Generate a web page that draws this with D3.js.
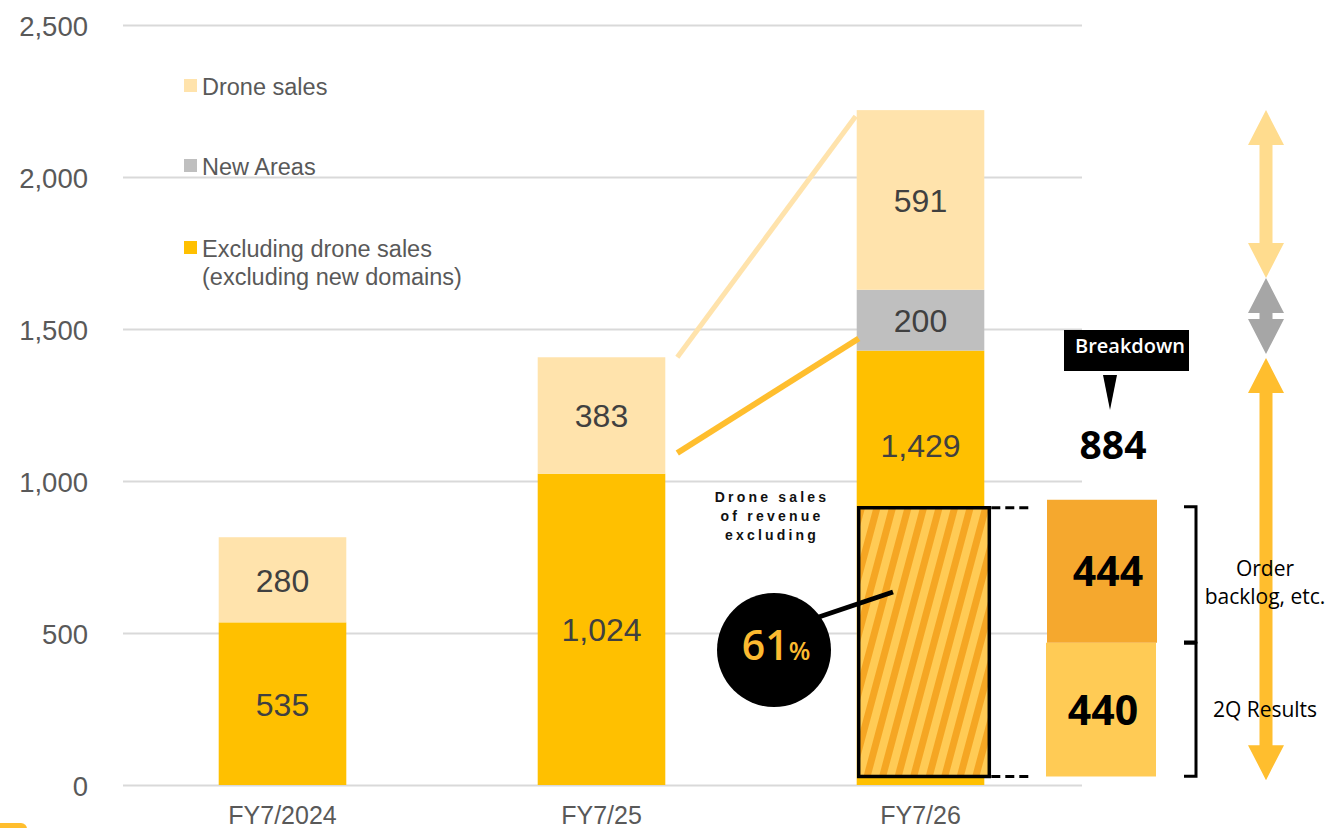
<!DOCTYPE html>
<html>
<head>
<meta charset="utf-8">
<script src="https://cdn.jsdelivr.net/npm/d3@7"></script>
<style>
  html, body { margin: 0; padding: 0; background: #ffffff; }
  svg { display: block; }
</style>
</head>
<body>
<script>
// ---- data ----
const categories = ["FY7/2024", "FY7/25", "FY7/26"];
const coreSales = [535, 1024, 1429];      // excluding drone sales (excluding new domains)
const newAreas = [0, 0, 200];
const droneSales = [280, 383, 591];
const yTicks = [0, 500, 1000, 1500, 2000, 2500];
const legendLabels = [
  ["Drone sales"],
  ["New Areas"],
  ["Excluding drone sales", "(excluding new domains)"]
];
const breakdownLabels = [["2Q Results"], ["Order", "backlog, etc."]];
const breakdownValues = [440, 444];
const breakdownTotal = 884;
const droneShare = 61;

// ---- layout ----
const W = 1329, H = 828;
const plot = { left: 123, right: 1082, top: 25, bottom: 785 };
const colors = {
  core: "#FFC000",
  newAreas: "#BFBFBF",
  drone: "#FFE3AC",
  grid: "#D9D9D9",
  axisText: "#595959",
  valueText: "#404040",
  backlog: "#F5A82E",
  results: "#FFCB55",
  arrowDrone: "#FFDC8E",
  arrowNew: "#A6A6A6",
  arrowCore: "#FFBE2E"
};
const annFont = "'Open Sans', 'Noto Sans', sans-serif";

const svg = d3.select("body").append("svg")
  .attr("width", W).attr("height", H)
  .attr("font-family", "'Liberation Sans', Arial, sans-serif");

const x = d3.scaleBand()
  .domain(categories)
  .range([plot.left, plot.right - 2])
  .paddingInner(0.6)
  .paddingOuter(0.3);

const y = d3.scaleLinear().domain([0, 2500]).range([plot.bottom, plot.top]);

// annotation values for the FY7/26 share box and breakdown column
const annBase = 28;
const shareTop = annBase + breakdownTotal;

// stripe pattern for the drone-sales share box
const defs = svg.append("defs");
const pat = defs.append("pattern")
  .attr("id", "stripes")
  .attr("patternUnits", "userSpaceOnUse")
  .attr("width", 15).attr("height", 15)
  .attr("patternTransform", "rotate(15)");
pat.append("rect").attr("width", 15).attr("height", 15).attr("fill", "#FFCB55");
pat.append("rect").attr("width", 7).attr("height", 15).attr("fill", "#F5A623");

// ---- gridlines and y axis ----
const yAxis = d3.axisLeft(y)
  .tickValues(yTicks)
  .tickSize(-(plot.right - plot.left))
  .tickFormat(d3.format(","));
const gAxis = svg.append("g")
  .attr("transform", `translate(${plot.left},0)`)
  .call(yAxis);
gAxis.select(".domain").remove();
gAxis.selectAll(".tick line").attr("stroke", colors.grid).attr("stroke-width", 2);
gAxis.selectAll(".tick text")
  .attr("x", 88 - plot.left)
  .attr("dy", "0.37em")
  .attr("fill", colors.axisText)
  .attr("font-size", 27.5)
  .attr("font-family", "'Liberation Sans', Arial, sans-serif");

// ---- x axis labels ----
const xAxis = d3.axisBottom(x).tickSize(0);
const gX = svg.append("g")
  .attr("transform", `translate(0,${plot.bottom})`)
  .call(xAxis);
gX.select(".domain").remove();
gX.selectAll(".tick text")
  .attr("y", 39)
  .attr("dy", 0)
  .attr("fill", colors.axisText)
  .attr("font-size", 25)
  .attr("font-family", "'Liberation Sans', Arial, sans-serif");

// ---- stacked bars ----
const table = categories.map((c, i) => ({
  cat: c, core: coreSales[i], newAreas: newAreas[i], drone: droneSales[i]
}));
const keys = ["core", "newAreas", "drone"];
const series = d3.stack().keys(keys)(table);
const lastCat = categories[categories.length - 1];

const gBars = svg.append("g");
series.forEach(s => {
  gBars.selectAll(null)
    .data(s.filter(d => d[1] - d[0] > 0))
    .join("rect")
    .attr("x", d => x(d.data.cat))
    .attr("width", x.bandwidth())
    .attr("y", d => y(d[1]))
    .attr("height", d => y(d[0]) - y(d[1]))
    .attr("fill", colors[s.key]);
});

// value labels; the FY7/26 core label sits in the part left visible above the share box
function labelY(d, key) {
  if (key === "core" && d.data.cat === lastCat) {
    return (y(d[1]) + y(shareTop)) / 2 + 28;
  }
  return (y(d[0]) + y(d[1])) / 2 + 12;
}
series.forEach(s => {
  gBars.selectAll(null)
    .data(s.filter(d => d[1] - d[0] > 0))
    .join("text")
    .attr("class", "value-label")
    .attr("x", d => x(d.data.cat) + x.bandwidth() / 2)
    .attr("y", d => labelY(d, s.key))
    .attr("text-anchor", "middle")
    .attr("font-size", 32)
    .attr("fill", colors.valueText)
    .text(d => d3.format(",")(d[1] - d[0]));
});

// ---- legend ----
const legendKeys = ["drone", "newAreas", "core"];
const legendBase = [95, 175, 257];
const gLeg = svg.append("g");
legendKeys.forEach((k, i) => {
  gLeg.append("rect")
    .attr("x", 184).attr("y", legendBase[i] - 16)
    .attr("width", 13).attr("height", 13)
    .attr("fill", colors[k]);
  legendLabels[i].forEach((line, j) => {
    gLeg.append("text")
      .attr("x", 202).attr("y", legendBase[i] + j * 28)
      .attr("font-size", 23.5)
      .attr("fill", colors.axisText)
      .text(line);
  });
});

// ---- connectors between FY7/25 and FY7/26 ----
const total25 = coreSales[1] + newAreas[1] + droneSales[1];
const total26 = coreSales[2] + newAreas[2] + droneSales[2];
const cx0 = x(categories[1]) + x.bandwidth() + 12;
const cx1 = x(categories[2]);
svg.append("line")
  .attr("x1", cx0).attr("y1", y(total25))
  .attr("x2", cx1 - 1).attr("y2", y(total26 - 20))
  .attr("stroke", colors.drone).attr("stroke-width", 5);
svg.append("line")
  .attr("x1", cx0).attr("y1", y(coreSales[1] + 68))
  .attr("x2", cx1 + 2).attr("y2", y(coreSales[2] + 40))
  .attr("stroke", colors.arrowCore).attr("stroke-width", 6);

// ---- drone share box on FY7/26 ----
const hx0 = x(categories[2]) + 2;
const hx1 = x(categories[2]) + x.bandwidth() + 5;
svg.append("rect")
  .attr("x", hx0).attr("y", y(shareTop))
  .attr("width", hx1 - hx0).attr("height", y(annBase) - y(shareTop))
  .attr("fill", "url(#stripes)")
  .attr("stroke", "#000").attr("stroke-width", 3.5);

// dashed guides to the breakdown column
[shareTop, annBase].forEach(v => {
  svg.append("line")
    .attr("x1", hx1 + 2).attr("x2", hx1 + 42)
    .attr("y1", y(v)).attr("y2", y(v))
    .attr("stroke", "#000").attr("stroke-width", 3)
    .attr("stroke-dasharray", "9,5");
});

// caption above the callout
const captionLines = ["Drone sales", "of revenue", "excluding"];
captionLines.forEach((t, i) => {
  svg.append("text")
    .attr("x", 772).attr("y", 502 + i * 19)
    .attr("text-anchor", "middle")
    .attr("font-size", 14)
    .attr("font-weight", "bold")
    .attr("letter-spacing", 3.2)
    .attr("fill", "#111")
    .text(t);
});

// share callout
const circ = { cx: 774, cy: 650, r: 57 };
svg.append("line")
  .attr("x1", circ.cx + 30).attr("y1", circ.cy - 28)
  .attr("x2", 893).attr("y2", 592)
  .attr("stroke", "#000").attr("stroke-width", 5);
svg.append("circle")
  .attr("cx", circ.cx).attr("cy", circ.cy).attr("r", circ.r)
  .attr("fill", "#000");
const shareText = svg.append("text")
  .attr("x", circ.cx + 2).attr("y", circ.cy + 10)
  .attr("text-anchor", "middle")
  .attr("font-family", annFont)
  .attr("font-weight", 600)
  .attr("fill", "#FBBA30");
shareText.append("tspan").attr("font-size", 41).text(droneShare);
shareText.append("tspan").attr("font-size", 25).text("%");

// ---- breakdown column ----
const bx = 1046, bw = 110;
let acc = annBase;
const bColors = [colors.results, colors.backlog];
const bSpans = [];
breakdownValues.forEach((v, i) => {
  const y0 = acc, y1 = acc + v;
  bSpans.push([y0, y1]);
  svg.append("rect")
    .attr("x", bx + i).attr("y", y(y1) - (i ? 8 : 0))
    .attr("width", bw).attr("height", y(y0) - y(y1) + (i ? 8 : 0))
    .attr("fill", bColors[i]);
  svg.append("text")
    .attr("x", bx + bw / 2 + (i ? 7 : 2)).attr("y", (y(y0) + y(y1)) / 2 + (i ? 11 : 15))
    .attr("text-anchor", "middle")
    .attr("font-family", annFont)
    .attr("font-weight", 700)
    .attr("font-size", 41)
    .attr("fill", "#000")
    .text(v);
  acc = y1;
});

// total and header
svg.append("text")
  .attr("x", 1113).attr("y", 459)
  .attr("text-anchor", "middle")
  .attr("font-family", annFont)
  .attr("font-weight", 700)
  .attr("font-size", 39)
  .attr("fill", "#000")
  .text(breakdownTotal);
svg.append("path")
  .attr("d", "M1103,375 L1117,375 L1110,410 Z")
  .attr("fill", "#000");
svg.append("rect")
  .attr("x", 1064).attr("y", 330).attr("width", 125).attr("height", 41)
  .attr("fill", "#000");
svg.append("text")
  .attr("x", 1130).attr("y", 353)
  .attr("text-anchor", "middle")
  .attr("font-family", annFont)
  .attr("font-weight", 600)
  .attr("font-size", 20)
  .attr("fill", "#fff")
  .text("Breakdown");

// ---- range arrows on the right ----
function doubleArrow(v0, v1, color) {
  const cx = 1266, hw = 18, sw = 6.5;
  const yt = y(v0), yb = y(v1);
  const hl = Math.min(35, (yb - yt) / 2 - 2);
  const d = [
    [cx, yt], [cx + hw, yt + hl], [cx + sw, yt + hl],
    [cx + sw, yb - hl], [cx + hw, yb - hl], [cx, yb],
    [cx - hw, yb - hl], [cx - sw, yb - hl], [cx - sw, yt + hl],
    [cx - hw, yt + hl]
  ];
  svg.append("path")
    .attr("d", "M" + d.map(p => p.join(",")).join("L") + "Z")
    .attr("fill", color);
}
const newTop = coreSales[2] + newAreas[2] + 39;
doubleArrow(total26, newTop, colors.arrowDrone);
doubleArrow(newTop, coreSales[2] - 11, colors.arrowNew);
doubleArrow(coreSales[2] - 24, annBase - 12, colors.arrowCore);

// brackets and labels
const brX0 = 1184, brX1 = 1196;
const brSpans = [[bSpans[0][0] + 1, bSpans[0][1] - 2], [bSpans[1][0] + 2, bSpans[1][1] + 3]];
brSpans.forEach(([v0, v1]) => {
  svg.append("path")
    .attr("d", `M${brX0},${y(v1)} L${brX1},${y(v1)} L${brX1},${y(v0)} L${brX0},${y(v0)}`)
    .attr("fill", "none").attr("stroke", "#000").attr("stroke-width", 3);
});
const labelBase = [717, 576];
breakdownLabels.forEach((lines, i) => {
  lines.forEach((t, j) => {
    svg.append("text")
      .attr("x", 1265).attr("y", labelBase[i] + j * 28)
      .attr("text-anchor", "middle")
      .attr("font-family", annFont)
      .attr("font-weight", 500)
      .attr("font-size", 21)
      .attr("fill", "#000")
      .text(t);
  });
});

// corner mark
svg.append("rect")
  .attr("x", -6).attr("y", 823).attr("width", 33).attr("height", 20)
  .attr("rx", 6).attr("fill", colors.arrowCore);
</script>
</body>
</html>
